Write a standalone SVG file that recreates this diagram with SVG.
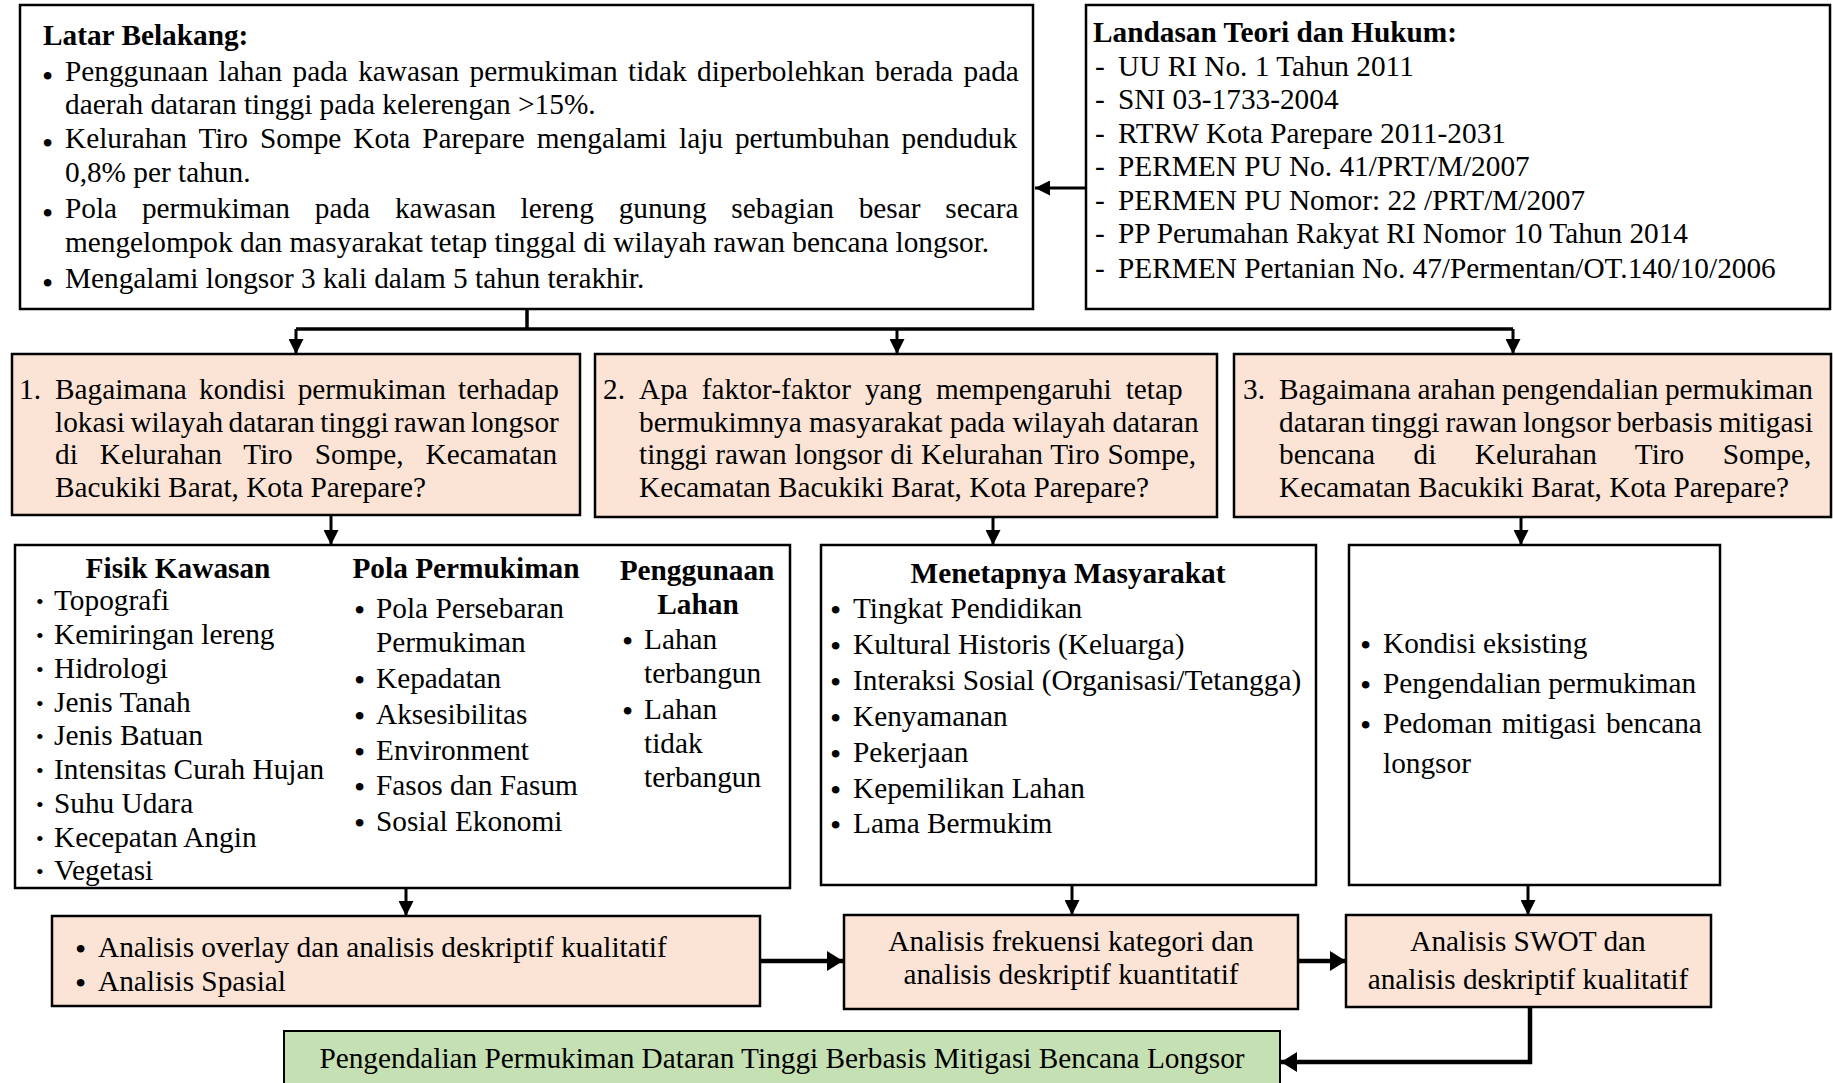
<svg xmlns="http://www.w3.org/2000/svg" width="1833" height="1083" viewBox="0 0 1833 1083">
<defs>
<style>
text{font-family:"Liberation Serif","Times New Roman",serif;font-size:29.3px;fill:#000}
.b{font-weight:bold}
.c{text-anchor:middle}
.bul{font-size:32px}
.sb{font-size:22px}
.box{fill:#fff;stroke:#000;stroke-width:2.5}
.peach{fill:#FBE4D5;stroke:#000;stroke-width:2.5}
.green{fill:#C5E0B3;stroke:#000;stroke-width:2}
.ln{fill:none;stroke:#000;stroke-width:3}
.thk{fill:none;stroke:#000;stroke-width:4.5}
</style>
<marker id="ah" markerUnits="userSpaceOnUse" markerWidth="15" markerHeight="15" refX="15" refY="7.5" orient="auto" viewBox="0 0 15 15">
<path d="M0,0 L15,7.5 L0,15 z" fill="#000"/>
</marker>
<marker id="ah2" markerUnits="userSpaceOnUse" markerWidth="16" markerHeight="20" refX="16" refY="10" orient="auto" viewBox="0 0 16 20">
<path d="M0,0 L16,10 L0,20 z" fill="#000"/>
</marker>
</defs>
<rect width="1833" height="1083" fill="#fff"/>

<g id="connectors">
<path class="ln" d="M1086,188 L1035,188" marker-end="url(#ah)"/>
<path class="ln" style="stroke-width:3.5" d="M527,309 L527,329 M296,329 L1513,329"/>
<path class="ln" d="M296,329 L296,354" marker-end="url(#ah)"/>
<path class="ln" d="M897,329 L897,354" marker-end="url(#ah)"/>
<path class="ln" d="M1513,329 L1513,354" marker-end="url(#ah)"/>
<path class="ln" d="M331,515 L331,545" marker-end="url(#ah)"/>
<path class="ln" d="M993,517 L993,545" marker-end="url(#ah)"/>
<path class="ln" d="M1521,517 L1521,545" marker-end="url(#ah)"/>
<path class="ln" d="M406,888 L406,916" marker-end="url(#ah)"/>
<path class="ln" d="M1072,886 L1072,915" marker-end="url(#ah)"/>
<path class="ln" d="M1528,886 L1528,915" marker-end="url(#ah)"/>
<path class="thk" d="M760,961 L843,961" marker-end="url(#ah2)"/>
<path class="thk" d="M1298,961 L1346,961" marker-end="url(#ah2)"/>
<path class="thk" d="M1530,1007 L1530,1062 L1281,1062" marker-end="url(#ah2)"/>
</g>

<g id="latar-belakang">
<rect class="box" x="20" y="5" width="1013" height="304"/>
<text class="b" x="43" y="45">Latar Belakang:</text>
<text class="bul" x="42" y="87">•</text>
<text x="65" y="81" style="word-spacing:3.1px">Penggunaan lahan pada kawasan permukiman tidak diperbolehkan berada pada</text>
<text x="65" y="114">daerah dataran tinggi pada kelerengan &gt;15%.</text>
<text class="bul" x="42" y="154">•</text>
<text x="65" y="148" style="word-spacing:4.7px">Kelurahan Tiro Sompe Kota Parepare mengalami laju pertumbuhan penduduk</text>
<text x="65" y="182">0,8% per tahun.</text>
<text class="bul" x="42" y="224">•</text>
<text x="65" y="218" style="word-spacing:17.5px">Pola permukiman pada kawasan lereng gunung sebagian besar secara</text>
<text x="65" y="252">mengelompok dan masyarakat tetap tinggal di wilayah rawan bencana longsor.</text>
<text class="bul" x="42" y="294">•</text>
<text x="65" y="288">Mengalami longsor 3 kali dalam 5 tahun terakhir.</text>
</g>

<g id="landasan-teori">
<rect class="box" x="1086" y="5" width="744" height="304"/>
<text class="b" x="1093" y="42">Landasan Teori dan Hukum:</text>
<text x="1095" y="76">-</text><text x="1118" y="76">UU RI No. 1 Tahun 2011</text>
<text x="1095" y="109">-</text><text x="1118" y="109">SNI 03-1733-2004</text>
<text x="1095" y="143">-</text><text x="1118" y="143">RTRW Kota Parepare 2011-2031</text>
<text x="1095" y="176">-</text><text x="1118" y="176">PERMEN PU No. 41/PRT/M/2007</text>
<text x="1095" y="210">-</text><text x="1118" y="210">PERMEN PU Nomor: 22 /PRT/M/2007</text>
<text x="1095" y="243">-</text><text x="1118" y="243">PP Perumahan Rakyat RI Nomor 10 Tahun 2014</text>
<text x="1095" y="278">-</text><text x="1118" y="278">PERMEN Pertanian No. 47/Permentan/OT.140/10/2006</text>
</g>

<g id="rumusan-1">
<rect class="peach" x="12" y="354" width="568" height="161"/>
<text x="19" y="399">1.</text>
<text x="55" y="399" style="word-spacing:5px">Bagaimana kondisi permukiman terhadap</text>
<text x="55" y="432" style="word-spacing:-1.9px">lokasi wilayah dataran tinggi rawan longsor</text>
<text x="55" y="464" style="word-spacing:14.7px">di Kelurahan Tiro Sompe, Kecamatan</text>
<text x="55" y="497">Bacukiki Barat, Kota Parepare?</text>
</g>

<g id="rumusan-2">
<rect class="peach" x="595" y="354" width="622" height="163"/>
<text x="603" y="399">2.</text>
<text x="639" y="399" style="word-spacing:6.7px">Apa faktor-faktor yang mempengaruhi tetap</text>
<text x="639" y="432">bermukimnya masyarakat pada wilayah dataran</text>
<text x="639" y="464" style="word-spacing:0.5px">tinggi rawan longsor di Kelurahan Tiro Sompe,</text>
<text x="639" y="497">Kecamatan Bacukiki Barat, Kota Parepare?</text>
</g>

<g id="rumusan-3">
<rect class="peach" x="1234" y="354" width="597" height="163"/>
<text x="1243" y="399">3.</text>
<text x="1279" y="399" style="word-spacing:-0.7px">Bagaimana arahan pengendalian permukiman</text>
<text x="1279" y="432" style="word-spacing:-1.4px">dataran tinggi rawan longsor berbasis mitigasi</text>
<text x="1279" y="464" style="word-spacing:31.2px">bencana di Kelurahan Tiro Sompe,</text>
<text x="1279" y="497">Kecamatan Bacukiki Barat, Kota Parepare?</text>
</g>

<g id="variabel-1">
<rect class="box" x="15" y="545" width="775" height="343"/>
<text class="b c" x="178" y="578">Fisik Kawasan</text>
<text class="sb" x="36" y="609">•</text><text x="54" y="610">Topografi</text>
<text class="sb" x="36" y="643">•</text><text x="54" y="644">Kemiringan lereng</text>
<text class="sb" x="36" y="677">•</text><text x="54" y="678">Hidrologi</text>
<text class="sb" x="36" y="711">•</text><text x="54" y="712">Jenis Tanah</text>
<text class="sb" x="36" y="744">•</text><text x="54" y="745">Jenis Batuan</text>
<text class="sb" x="36" y="778">•</text><text x="54" y="779">Intensitas Curah Hujan</text>
<text class="sb" x="36" y="812">•</text><text x="54" y="813">Suhu Udara</text>
<text class="sb" x="36" y="846">•</text><text x="54" y="847">Kecepatan Angin</text>
<text class="sb" x="36" y="879">•</text><text x="54" y="880">Vegetasi</text>

<text class="b c" x="466" y="578">Pola Permukiman</text>
<text class="bul" x="354" y="621">•</text><text x="376" y="618">Pola Persebaran</text>
<text x="376" y="652">Permukiman</text>
<text class="bul" x="354" y="691">•</text><text x="376" y="688">Kepadatan</text>
<text class="bul" x="354" y="727">•</text><text x="376" y="724">Aksesibilitas</text>
<text class="bul" x="354" y="763">•</text><text x="376" y="760">Environment</text>
<text class="bul" x="354" y="798">•</text><text x="376" y="795">Fasos dan Fasum</text>
<text class="bul" x="354" y="834">•</text><text x="376" y="831">Sosial Ekonomi</text>

<text class="b c" x="697" y="580">Penggunaan</text>
<text class="b c" x="698" y="614">Lahan</text>
<text class="bul" x="622" y="652">•</text><text x="644" y="649">Lahan</text>
<text x="644" y="683">terbangun</text>
<text class="bul" x="622" y="722">•</text><text x="644" y="719">Lahan</text>
<text x="644" y="753">tidak</text>
<text x="644" y="787">terbangun</text>
</g>

<g id="variabel-2">
<rect class="box" x="821" y="545" width="495" height="340"/>
<text class="b c" x="1068" y="583">Menetapnya Masyarakat</text>
<text class="bul" x="830" y="621">•</text><text x="853" y="618">Tingkat Pendidikan</text>
<text class="bul" x="830" y="657">•</text><text x="853" y="654">Kultural Historis (Keluarga)</text>
<text class="bul" x="830" y="693">•</text><text x="853" y="690">Interaksi Sosial (Organisasi/Tetangga)</text>
<text class="bul" x="830" y="729">•</text><text x="853" y="726">Kenyamanan</text>
<text class="bul" x="830" y="765">•</text><text x="853" y="762">Pekerjaan</text>
<text class="bul" x="830" y="801">•</text><text x="853" y="798">Kepemilikan Lahan</text>
<text class="bul" x="830" y="836">•</text><text x="853" y="833">Lama Bermukim</text>
</g>

<g id="variabel-3">
<rect class="box" x="1349" y="545" width="371" height="340"/>
<text class="bul" x="1360" y="656">•</text><text x="1383" y="653">Kondisi eksisting</text>
<text class="bul" x="1360" y="696">•</text><text x="1383" y="693">Pengendalian permukiman</text>
<text class="bul" x="1360" y="736">•</text><text x="1383" y="733" style="word-spacing:2.4px">Pedoman mitigasi bencana</text>
<text x="1383" y="773">longsor</text>
</g>

<g id="analisis-1">
<rect class="peach" x="52" y="916" width="708" height="90"/>
<text class="bul" x="75" y="960">•</text><text x="98" y="957">Analisis overlay dan analisis deskriptif kualitatif</text>
<text class="bul" x="75" y="994">•</text><text x="98" y="991">Analisis Spasial</text>
</g>

<g id="analisis-2">
<rect class="peach" x="844" y="915" width="454" height="94"/>
<text class="c" x="1071" y="951">Analisis frekuensi kategori dan</text>
<text class="c" x="1071" y="984">analisis deskriptif kuantitatif</text>
</g>

<g id="analisis-3">
<rect class="peach" x="1346" y="915" width="365" height="92"/>
<text class="c" x="1528" y="951">Analisis SWOT dan</text>
<text class="c" x="1528" y="989">analisis deskriptif kualitatif</text>
</g>

<g id="hasil">
<rect class="green" x="284" y="1031" width="996" height="70"/>
<text class="c" x="782" y="1068">Pengendalian Permukiman Dataran Tinggi Berbasis Mitigasi Bencana Longsor</text>
</g>
</svg>
